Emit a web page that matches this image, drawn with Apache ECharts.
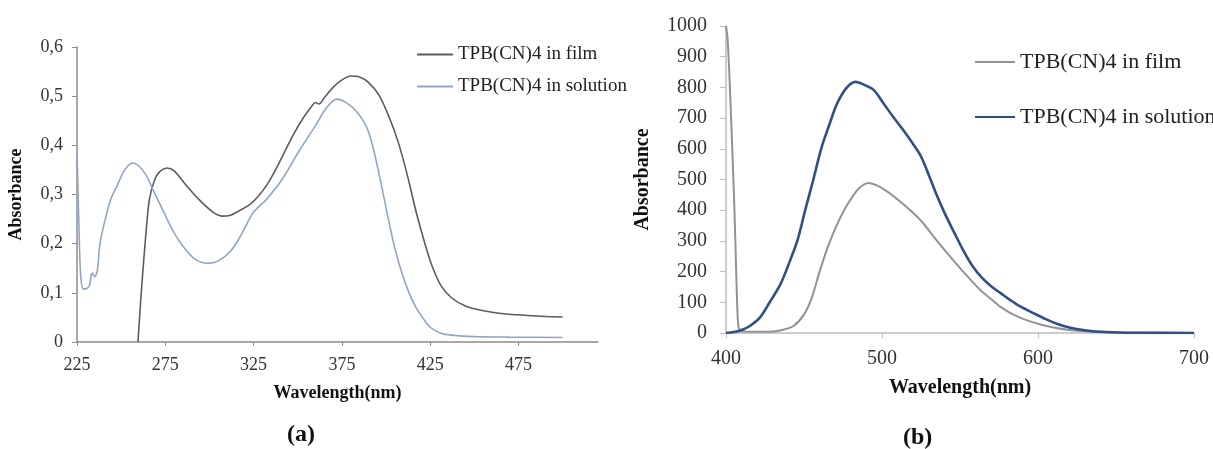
<!DOCTYPE html>
<html>
<head>
<meta charset="utf-8">
<script src="https://cdn.jsdelivr.net/npm/echarts@6/dist/echarts.min.js"></script>
<style>
html,body{margin:0;padding:0;background:#fff;}
#chart{width:1213px;height:449px;}
</style>
</head>
<body>
<div id="chart"></div>
<script>
// ---------- Data (a): absorbance ----------
const legendA = ["TPB(CN)4 in film", "TPB(CN)4 in solution"];
const filmA_wl  = [259.5,261,262,264,266,269,272,276,280,287,294,302,307,312,317,323,328,333,338,343,348,353,358,360,362,365,370,375,380,385,390,396,402,407,412,417,422,426,431,437,445,453,465,480,490,500];
const filmA_abs = [0,0.08,0.13,0.22,0.29,0.33,0.347,0.354,0.348,0.318,0.29,0.264,0.256,0.258,0.267,0.28,0.298,0.322,0.354,0.39,0.425,0.455,0.48,0.487,0.484,0.497,0.518,0.533,0.541,0.539,0.528,0.502,0.455,0.405,0.34,0.265,0.2,0.155,0.115,0.09,0.073,0.065,0.058,0.054,0.052,0.051];
const solA_wl  = [225,226,227,228.5,230,232,233.5,235,236.5,238,241,244,248,252,256.5,260,264,268,274,280,286,292,299,305,312,318,324.5,332,341,351,360,366,372,377,383,389,393,397,401,405,409,413,417,421,425,431,437,450,470,500];
const solA_abs = [0.385,0.25,0.14,0.108,0.108,0.115,0.14,0.133,0.145,0.2,0.25,0.289,0.32,0.35,0.364,0.358,0.34,0.31,0.265,0.222,0.19,0.168,0.16,0.165,0.185,0.218,0.262,0.289,0.33,0.39,0.44,0.475,0.494,0.488,0.47,0.437,0.39,0.325,0.255,0.19,0.14,0.1,0.07,0.048,0.03,0.018,0.014,0.011,0.01,0.009];
const xTicksA = [225,275,325,375,425,475];

// ---------- Data (b): emission ----------
const legendB = ["TPB(CN)4 in film ", "TPB(CN)4 in solution "];
const filmB_wl  = [400,401,402.5,404,405,406,407,408,410,420,430,436,443,450,455,460,466,471.6,478,485,491.5,497,503,510,517,524.6,533,541.8,552,563,570,576,583,590,600,610,620,630,640,660,700];
const filmB_val = [1000,960,800,600,466,300,120,20,6,4,5,10,22,60,115,200,290,358,420,470,489,480,462,435,405,368,315,260,200,140,110,85,63,47,30,18,10,6,3,1,0];
const solB_wl  = [400,405,410,415,422,428,435,441,446,451,456,461,466,471,477,483,488,494.6,500,507,513,520,525,530,535,540,546,552,558,564,570,576,582,588,597,605,612,620,630,640,655,700];
const solB_val = [0,3,10,22,52,100,160,235,305,405,500,600,675,745,797,818,810,792,755,705,665,615,575,515,450,392,330,270,218,180,152,130,108,88,65,45,30,18,9,4,1,0];

const zip = (a, b) => a.map((v, i) => [v, b[i]]);
const serif = "'Liberation Serif','DejaVu Serif',serif";

const chart = echarts.init(document.getElementById('chart'), null, {renderer: 'canvas'});
chart.setOption({
  backgroundColor: '#ffffff',
  animation: false,
  textStyle: {fontFamily: serif},
  grid: [
    {left: 77, top: 47, width: 521, height: 295},
    {left: 726, top: 26, width: 468, height: 307}
  ],
  legend: [
    {
      data: legendA, orient: 'vertical', left: 412, top: 40,
      icon: 'rect', itemWidth: 36, itemHeight: 2, itemGap: 13,
      textStyle: {fontFamily: serif, fontSize: 19, color: '#222'}
    },
    {
      data: legendB, orient: 'vertical', left: 970, top: 46,
      icon: 'rect', itemWidth: 40, itemHeight: 2, itemGap: 33,
      textStyle: {fontFamily: serif, fontSize: 22, color: '#222'}
    }
  ],
  xAxis: [
    {
      type: 'value', gridIndex: 0, min: 225, max: 520,
      name: 'Wavelength(nm)', nameLocation: 'middle', nameGap: 42,
      nameTextStyle: {fontFamily: serif, fontWeight: 'bold', fontSize: 18, color: '#111'},
      axisLine: {show: true, lineStyle: {color: '#8c8c8c', width: 1.5}},
      axisTick: {show: true, length: 4, customValues: xTicksA, lineStyle: {color: '#8c8c8c'}},
      axisLabel: {customValues: xTicksA, margin: 14, fontFamily: serif, fontSize: 18, color: '#333'},
      splitLine: {show: false}
    },
    {
      type: 'value', gridIndex: 1, min: 400, max: 700, interval: 100,
      name: 'Wavelength(nm)', nameLocation: 'middle', nameGap: 45,
      nameTextStyle: {fontFamily: serif, fontWeight: 'bold', fontSize: 20, color: '#111'},
      axisLine: {show: true, lineStyle: {color: '#bdbdbd', width: 1.5}},
      axisTick: {show: true, length: 5, lineStyle: {color: '#bdbdbd'}},
      axisLabel: {margin: 16, fontFamily: serif, fontSize: 20, color: '#333'},
      splitLine: {show: false}
    }
  ],
  yAxis: [
    {
      type: 'value', gridIndex: 0, min: 0, max: 0.6, interval: 0.1,
      name: 'Absorbance', nameLocation: 'middle', nameGap: 52,
      nameTextStyle: {fontFamily: serif, fontWeight: 'bold', fontSize: 18, color: '#111'},
      axisLine: {show: true, lineStyle: {color: '#8c8c8c', width: 1.5}},
      axisTick: {show: true, length: 5, lineStyle: {color: '#8c8c8c'}},
      axisLabel: {margin: 14, fontFamily: serif, fontSize: 18, color: '#333',
        formatter: v => (Math.round(v * 10) / 10).toString().replace('.', ',')},
      splitLine: {show: false}
    },
    {
      type: 'value', gridIndex: 1, min: 0, max: 1000, interval: 100,
      name: 'Absorbance', nameLocation: 'middle', nameGap: 73,
      nameTextStyle: {fontFamily: serif, fontWeight: 'bold', fontSize: 20, color: '#111'},
      axisLine: {show: true, lineStyle: {color: '#bdbdbd', width: 1.5}},
      axisTick: {show: true, length: 6, lineStyle: {color: '#bdbdbd'}},
      axisLabel: {margin: 19, fontFamily: serif, fontSize: 20, color: '#333',
        formatter: v => String(Math.round(v))},
      splitLine: {show: false}
    }
  ],
  series: [
    {name: legendA[0], type: 'line', xAxisIndex: 0, yAxisIndex: 0, data: zip(filmA_wl, filmA_abs),
      symbol: 'none', smooth: 0.3, lineStyle: {color: '#5c5c5c', width: 1.6}, itemStyle: {color: '#5c5c5c'}},
    {name: legendA[1], type: 'line', xAxisIndex: 0, yAxisIndex: 0, data: zip(solA_wl, solA_abs),
      symbol: 'none', smooth: 0.3, lineStyle: {color: '#8ea7c9', width: 1.6}, itemStyle: {color: '#8ea7c9'}},
    {name: legendB[0], type: 'line', xAxisIndex: 1, yAxisIndex: 1, data: zip(filmB_wl, filmB_val),
      symbol: 'none', smooth: 0.3, lineStyle: {color: '#939393', width: 2}, itemStyle: {color: '#939393'}},
    {name: legendB[1], type: 'line', xAxisIndex: 1, yAxisIndex: 1, data: zip(solB_wl, solB_val),
      symbol: 'none', smooth: 0.3, lineStyle: {color: '#2d4f8e', width: 2.6}, itemStyle: {color: '#2d4f8e'}}
  ],
  graphic: [
    {type: 'text', left: 287, top: 423, style: {text: '(a)', fontFamily: serif, fontWeight: 'bold', fontSize: 24, fill: '#111'}},
    {type: 'text', left: 903, top: 426, style: {text: '(b)', fontFamily: serif, fontWeight: 'bold', fontSize: 24, fill: '#111'}}
  ]
});
</script>
</body>
</html>
